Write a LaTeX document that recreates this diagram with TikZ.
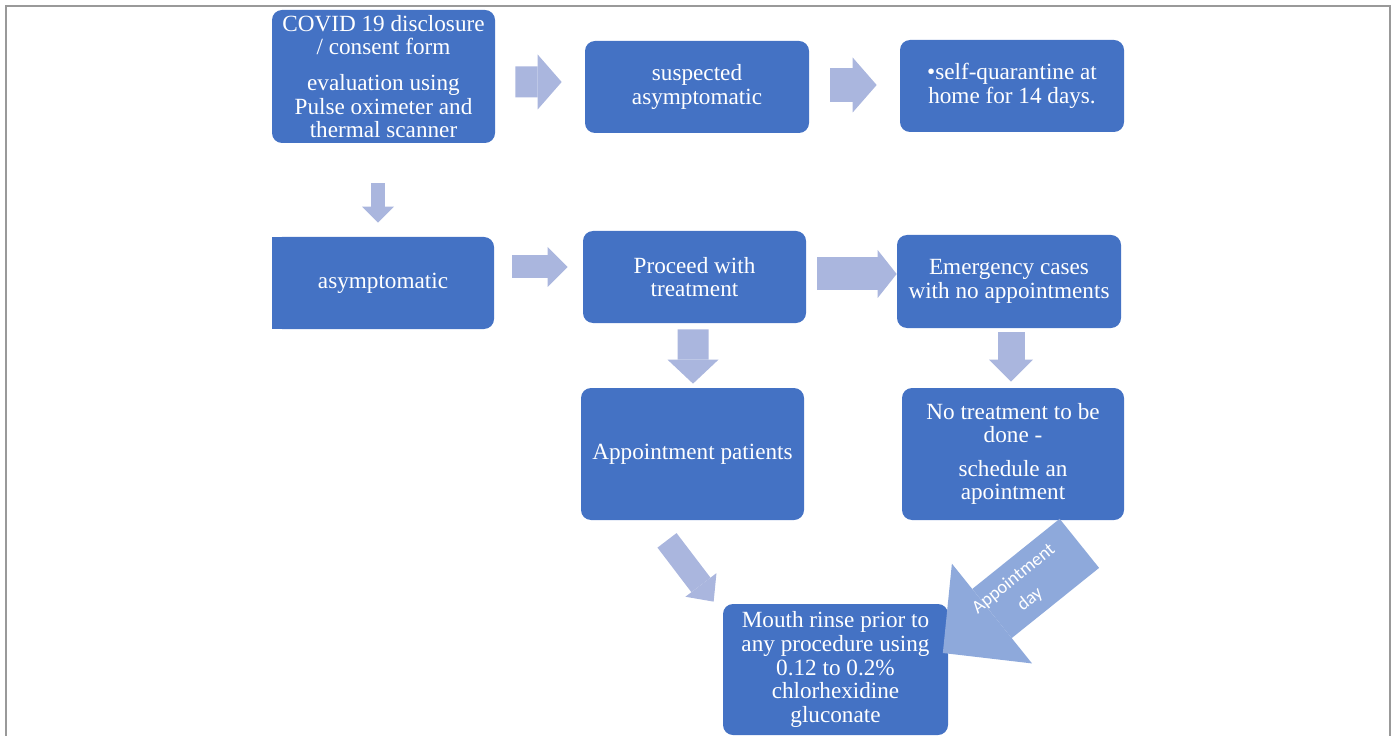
\documentclass[tikz,border=0pt]{standalone}
\usepackage{fontspec}
\setmainfont{Liberation Serif}
\newfontfamily\calib{Carlito}
\usetikzlibrary{arrows.meta}
\definecolor{boxblue}{RGB}{68,114,196}
\definecolor{arrowblue}{RGB}{170,182,222}
\definecolor{dayblue}{RGB}{142,169,219}
\begin{document}
\begin{tikzpicture}[x=0.02cm, y=-0.02cm,
  box/.style n args={2}{rectangle, rounded corners=0.2cm, fill=boxblue, text=white, align=center, inner sep=0pt, minimum width=#1*0.02cm, minimum height=#2*0.02cm, font=\fontsize{13.2}{13.4}\selectfont},
  flow/.style n args={3}{draw=arrowblue, line width=#1*0.02cm, -{Triangle[length=#2*0.02cm, width=#3*0.02cm, line width=0pt]}}]
\useasboundingbox (0,0) rectangle (1395,736);
\draw[gray!80, line width=0.04cm] (6,736) -- (6,6) -- (1390,6) -- (1390,736);
\node[box={223}{133}] (covid) at (383.5,76.5) {COVID 19 disclosure\\/ consent form\\[7pt]evaluation using\\Pulse oximeter and\\thermal scanner};
\node[box={224}{92}] (susp) at (697,87) {suspected\\asymptomatic};
\node[box={224}{92}] (quar) at (1012,86) {•self-quarantine at\\home for 14 days.};
\node[box={222}{92}] (asym) at (383,283) {asymptomatic};
\fill[boxblue] (asym.north west) rectangle ([xshift=0.3cm]asym.south west);
\node[box={223}{92}] (proc) at (694.5,277) {Proceed with\\treatment};
\node[box={224}{93}] (emer) at (1009,281.5) {Emergency cases\\with no appointments};
\node[box={223}{132}] (appt) at (692.5,454) {Appointment patients};
\node[box={222}{132}] (notr) at (1013,454) {No treatment to be\\done -\\[5.5pt]schedule an\\apointment};
\node[box={225}{131}] (rinse) at (835.5,669.5) {Mouth rinse prior to\\any procedure using\\0.12 to 0.2\%\\chlorhexidine\\gluconate};
\draw[flow={31}{24}{55}] ([shift={(20,5.5)}]covid.east) -- ([shift={(-23,-5)}]susp.west);
\draw[flow={34}{24}{55}] ([shift={(21,-2)}]susp.east) -- ([shift={(-23,-1)}]quar.west);
\draw[flow={14}{16}{32}] ([shift={(-5.5,40)}]covid.south) -- ([shift={(-5,-14)}]asym.north);
\draw[flow={23}{20}{40}] ([shift={(18,-16)}]asym.east) -- ([shift={(-15,-10)}]proc.west);
\draw[flow={33}{19}{48}] ([shift={(11,-3)}]proc.east) -- ([shift={(0,-7.5)}]emer.west);
\draw[flow={31}{24}{51}] ([shift={(-1.5,6)}]proc.south) -- ([shift={(0.5,-4)}]appt.north);
\draw[flow={27}{22}{44}] ([shift={(2,4)}]emer.south) -- ([shift={(-2,-6)}]notr.north);
\draw[flow={24}{21}{39}] ([shift={(-25.5,20)}]appt.south) -- ([shift={(-9,-2)}]rinse.north west);
\draw[flow={63}{63}{128}, draw=dayblue] ([shift={(-45,23)}]notr.south east) -- node[pos=0.42, sloped, text=white, align=center, font=\calib\fontsize{10.6}{15}\selectfont] {Appointment\\day} ([shift={(-5.5,-16.5)}]rinse.east);
\end{tikzpicture}
\end{document}
